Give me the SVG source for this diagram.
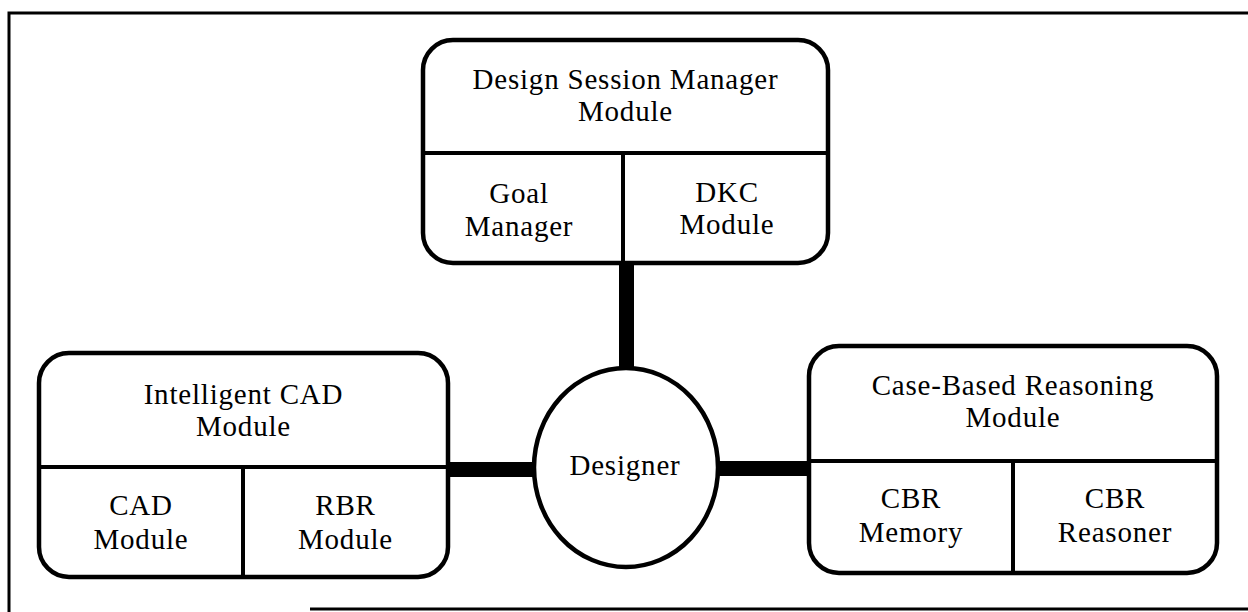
<svg xmlns="http://www.w3.org/2000/svg" width="1248" height="612" viewBox="0 0 1248 612">
<style>
.box{fill:#fff;stroke:#000;stroke-width:4.5}
.div{stroke:#000;stroke-width:4;fill:none}
.frame{stroke:#000;stroke-width:3;fill:none}
.conn{stroke:#000;stroke-width:15;fill:none}
text{font-family:"Liberation Serif","Times New Roman",serif;font-size:29px;letter-spacing:0.8px;fill:#000;text-anchor:middle}
</style>
<rect width="1248" height="612" fill="#fff"/>
<g id="frame">
<path class="frame" d="M9,612 V13 H1248"/>
<path class="frame" d="M310,609 H1248"/>
</g>
<g id="connectors">
<line class="conn" x1="626.5" y1="263" x2="626.5" y2="369"/>
<line class="conn" x1="448" y1="469.5" x2="535" y2="469.5"/>
<line class="conn" x1="716" y1="468.5" x2="809" y2="468.5"/>
</g>
<g id="design-session-manager">
<rect class="box" x="423" y="40" width="405" height="223" rx="30" ry="30"/>
<line class="div" x1="423" y1="153" x2="828" y2="153"/>
<line class="div" x1="623" y1="153" x2="623" y2="263"/>
<text x="625.5" y="89">Design Session Manager</text>
<text x="625.5" y="121">Module</text>
<text x="519" y="203">Goal</text>
<text x="519" y="236">Manager</text>
<text x="727" y="202">DKC</text>
<text x="727" y="234">Module</text>
</g>
<g id="intelligent-cad">
<rect class="box" x="39" y="353" width="409" height="224" rx="30" ry="30"/>
<line class="div" x1="39" y1="467" x2="448" y2="467"/>
<line class="div" x1="243" y1="467" x2="243" y2="577"/>
<text x="243.5" y="404">Intelligent CAD</text>
<text x="243.5" y="436">Module</text>
<text x="141" y="515">CAD</text>
<text x="141" y="549">Module</text>
<text x="345.5" y="515">RBR</text>
<text x="345.5" y="549">Module</text>
</g>
<g id="designer">
<ellipse class="box" cx="626" cy="467.5" rx="92" ry="99.5"/>
<text x="625" y="475">Designer</text>
</g>
<g id="case-based-reasoning">
<rect class="box" x="809" y="346" width="408" height="227" rx="30" ry="30"/>
<line class="div" x1="809" y1="461" x2="1217" y2="461"/>
<line class="div" x1="1013" y1="461" x2="1013" y2="573"/>
<text x="1013" y="395">Case-Based Reasoning</text>
<text x="1013" y="427">Module</text>
<text x="911" y="508">CBR</text>
<text x="911" y="542">Memory</text>
<text x="1115" y="508">CBR</text>
<text x="1115" y="542">Reasoner</text>
</g>
</svg>
